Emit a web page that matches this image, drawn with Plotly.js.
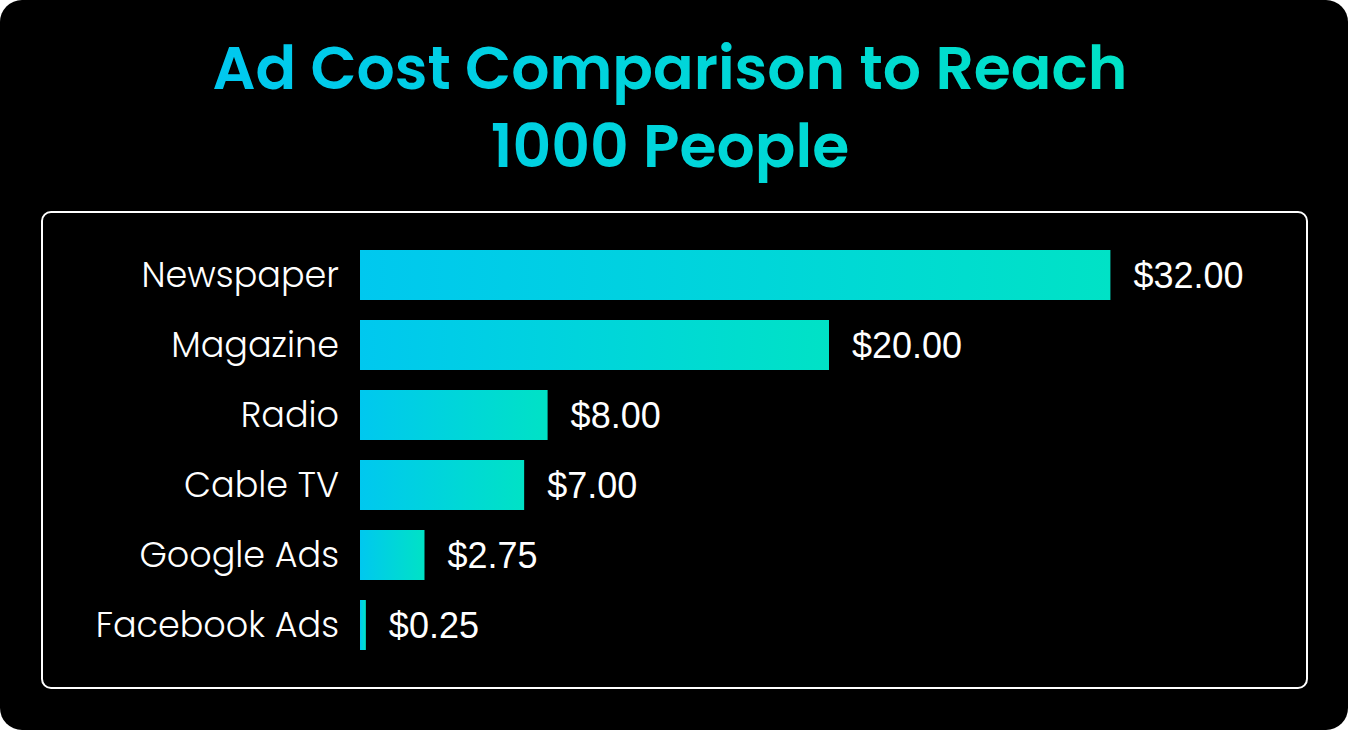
<!DOCTYPE html>
<html>
<head>
<meta charset="utf-8">
<script src="https://cdn.plot.ly/plotly-3.0.1.min.js"></script>
<style>
  html, body { margin: 0; padding: 0; background: #ffffff; }
  #wrap { position: relative; width: 1348px; height: 730px; background: #000000; border-radius: 22px; overflow: hidden; }
  #frame { position: absolute; left: 41px; top: 211px; width: 1263px; height: 474px; border: 2px solid #ffffff; border-radius: 10px; }
  #chart { position: absolute; left: 0; top: 0; width: 1348px; height: 730px; }
</style>
</head>
<body>
<div id="wrap">
  <div id="frame"></div>
  <div id="chart"></div>
</div>
<script>
// channels and cost to reach 1000 people (USD)
var channels = ['Newspaper', 'Magazine', 'Radio', 'Cable TV', 'Google Ads', 'Facebook Ads'];
var costs = [32.00, 20.00, 8.00, 7.00, 2.75, 0.25];

var cyan = '#00c8ef';
var teal = '#00e2c6';

var data = [{
  type: 'bar',
  orientation: 'h',
  y: channels,
  x: costs,
  marker: { color: cyan },
  texttemplate: '\u00a0\u00a0$%{x:.2f}',
  textposition: 'outside',
  cliponaxis: false,
  textfont: { family: 'Liberation Sans, Arial, sans-serif', size: 36, color: '#ffffff' },
  hoverinfo: 'none'
}];

var layout = {
  width: 1348,
  height: 730,
  paper_bgcolor: 'rgba(0,0,0,0)',
  plot_bgcolor: 'rgba(0,0,0,0)',
  showlegend: false,
  title: {
    text: 'Ad Cost Comparison to Reach<br>1000 People',
    font: { family: 'Poppins, Inter, sans-serif', size: 60, color: cyan, weight: 600 },
    x: 0.497,
    xanchor: 'center',
    yref: 'container',
    y: 0.878,
    yanchor: 'top'
  },
  margin: { l: 360, r: 50, t: 240, b: 70 },
  bargap: 0.286,
  xaxis: {
    range: [0, 40],
    visible: false,
    fixedrange: true
  },
  yaxis: {
    autorange: 'reversed',
    showgrid: false,
    zeroline: false,
    showline: false,
    ticks: '',
    ticklabelstandoff: 20,
    tickfont: { family: 'Poppins, Lato, sans-serif', size: 35, color: '#ffffff', weight: 300 },
    fixedrange: true
  }
};

var config = { displayModeBar: false, staticPlot: true, responsive: false };

Plotly.newPlot('chart', data, layout, config).then(function (gd) {
  var svg = gd.querySelector('.main-svg');
  var defs = svg.querySelector('defs');
  var ns = 'http://www.w3.org/2000/svg';

  function addGrad(id) {
    var g = document.createElementNS(ns, 'linearGradient');
    g.setAttribute('id', id);
    g.setAttribute('x1', '0'); g.setAttribute('y1', '0');
    g.setAttribute('x2', '1'); g.setAttribute('y2', '0');
    [[0, cyan], [1, teal]].forEach(function (s) {
      var stop = document.createElementNS(ns, 'stop');
      stop.setAttribute('offset', s[0]);
      stop.setAttribute('stop-color', s[1]);
      g.appendChild(stop);
    });
    defs.appendChild(g);
  }
  addGrad('barGrad');
  addGrad('titleGrad');

  // gradient fill on each bar
  gd.querySelectorAll('.barlayer .point path').forEach(function (p) {
    p.style.fill = 'url(#barGrad)';
  });

  // gradient on the title text
  var t = gd.querySelector('.gtitle');
  if (t) t.style.fill = 'url(#titleGrad)';
});
</script>
</body>
</html>
